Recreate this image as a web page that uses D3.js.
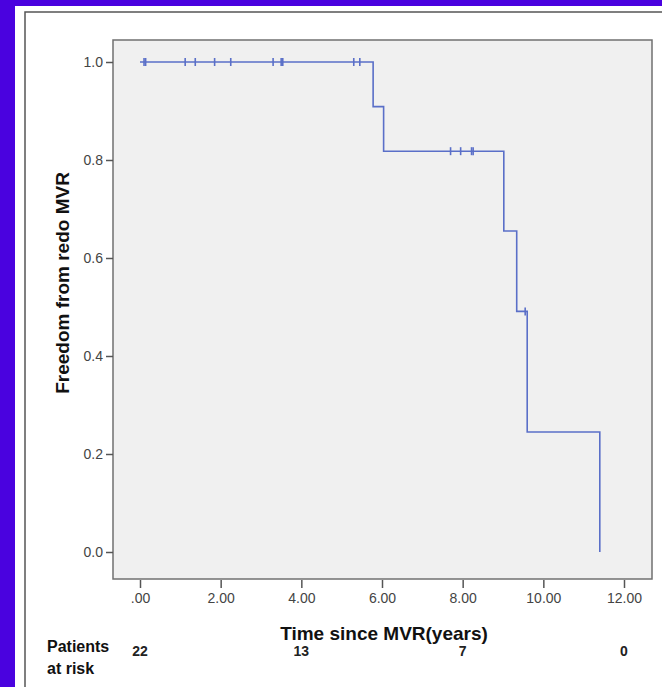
<!DOCTYPE html>
<html>
<head>
<meta charset="utf-8">
<script src="https://cdn.jsdelivr.net/npm/d3@7"></script>
<style>
  body { margin: 0; background: #fff; }
  svg { display: block; font-family: "Liberation Sans", Arial, sans-serif; }
</style>
</head>
<body>
<div id="chart-area"></div>
<script>
// Kaplan-Meier: freedom from redo MVR
var eventTimes = [0, 5.78, 6.04, 9.02, 9.34, 9.60, 11.40];
var eventSurv  = [1, 0.909, 0.818, 0.655, 0.491, 0.245, 0];

var censorTimes = [0.10, 0.14, 1.12, 1.37, 1.85, 2.25, 3.30, 3.50, 3.54, 5.30, 5.45, 7.70, 7.95, 8.22, 8.26, 9.55];
var censorSurv  = [1, 1, 1, 1, 1, 1, 1, 1, 1, 1, 1, 0.818, 0.818, 0.818, 0.818, 0.491];

var xTicks = [0, 2, 4, 6, 8, 10, 12];
var yTicks = [0, 0.2, 0.4, 0.6, 0.8, 1.0];

var riskTimes = [0, 4, 8, 12];
var riskCounts = [22, 13, 7, 0];

var W = 662, H = 687;
var plot = { left: 113, top: 40, right: 652, bottom: 579 };
var lineColor = '#5a6fc8';

var svg = d3.select('#chart-area')
  .append('svg')
    .attr('width', W)
    .attr('height', H);

// blue page frame + white panel
svg.append('rect')
  .attr('width', W).attr('height', H)
  .attr('fill', '#4a02df');
svg.append('rect')
  .attr('x', 15).attr('y', 6)
  .attr('width', W).attr('height', H)
  .attr('fill', '#fff');
svg.append('rect')
  .attr('x', 25).attr('y', 12)
  .attr('width', W + 20).attr('height', H + 20)
  .attr('fill', 'none')
  .attr('stroke', '#555')
  .attr('stroke-width', 1.5);

// plot area
svg.append('rect')
  .attr('x', plot.left).attr('y', plot.top)
  .attr('width', plot.right - plot.left)
  .attr('height', plot.bottom - plot.top)
  .attr('fill', '#f0f0f0')
  .attr('stroke', '#707070')
  .attr('stroke-width', 1.5);

var x = d3.scaleLinear().domain([0, 12]).range([140, 624]);
var y = d3.scaleLinear().domain([0, 1]).range([552, 62]);

// Y axis
var yAxis = svg.append('g')
  .attr('transform', 'translate(' + plot.left + ',0)')
  .call(d3.axisLeft(y).tickValues(yTicks).tickSize(7).tickFormat(d3.format('.1f')));
yAxis.select('.domain').remove();
yAxis.selectAll('line').attr('stroke', '#555').attr('stroke-width', 1.5);
yAxis.selectAll('text').attr('fill', '#444').attr('font-size', '14px');

// X axis
var xAxis = svg.append('g')
  .attr('transform', 'translate(0,' + (plot.bottom + 1) + ')')
  .call(d3.axisBottom(x).tickValues(xTicks).tickSize(8)
    .tickFormat(function(d) { return d === 0 ? '.00' : d.toFixed(2); }));
xAxis.select('.domain').remove();
xAxis.selectAll('line').attr('stroke', '#555').attr('stroke-width', 1.5);
xAxis.selectAll('text').attr('fill', '#444').attr('font-size', '14px').attr('dy', '0.85em');

// axis titles
svg.append('text')
  .attr('x', 384)
  .attr('y', 640)
  .attr('text-anchor', 'middle')
  .attr('font-size', '19px')
  .attr('font-weight', 'bold')
  .attr('fill', '#111')
  .text('Time since MVR(years)');

svg.append('text')
  .attr('transform', 'translate(69,283) rotate(-90)')
  .attr('text-anchor', 'middle')
  .attr('font-size', '19px')
  .attr('font-weight', 'bold')
  .attr('fill', '#111')
  .text('Freedom from redo MVR');

// survival curve
var pts = eventTimes.map(function(t, i) { return [t, eventSurv[i]]; });
var line = d3.line()
  .x(function(d) { return x(d[0]); })
  .y(function(d) { return y(d[1]); })
  .curve(d3.curveStepAfter);

svg.append('path')
  .datum(pts)
  .attr('d', line)
  .attr('fill', 'none')
  .attr('stroke', lineColor)
  .attr('stroke-width', 1.6);

// censor marks
svg.selectAll('.censor')
  .data(censorTimes)
  .enter().append('line')
    .attr('class', 'censor')
    .attr('x1', function(d) { return x(d); })
    .attr('x2', function(d) { return x(d); })
    .attr('y1', function(d, i) { return y(censorSurv[i]) - 4; })
    .attr('y2', function(d, i) { return y(censorSurv[i]) + 4; })
    .attr('stroke', lineColor)
    .attr('stroke-width', 1.6);

// patients at risk
svg.append('text')
  .attr('x', 47).attr('y', 652)
  .attr('font-size', '16px').attr('font-weight', 'bold').attr('fill', '#111')
  .text('Patients');
svg.append('text')
  .attr('x', 47).attr('y', 674)
  .attr('font-size', '16px').attr('font-weight', 'bold').attr('fill', '#111')
  .text('at risk');

svg.selectAll('.risk')
  .data(riskCounts)
  .enter().append('text')
    .attr('class', 'risk')
    .attr('x', function(d, i) { return x(riskTimes[i]); })
    .attr('y', 656)
    .attr('text-anchor', 'middle')
    .attr('font-size', '14px')
    .attr('font-weight', 'bold')
    .attr('fill', '#222')
    .text(function(d) { return d; });
</script>
</body>
</html>
